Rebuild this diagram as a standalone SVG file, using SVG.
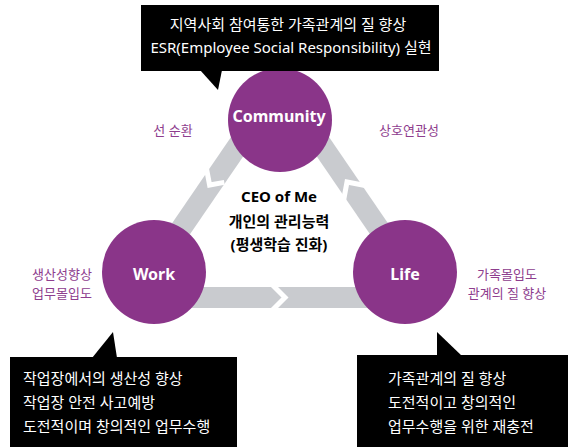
<svg xmlns="http://www.w3.org/2000/svg" width="575" height="447" viewBox="0 0 575 447">
<style>
text{font-family:"Noto Sans","Noto Sans CJK KR",sans-serif}
.band{stroke:#c9cbcf;stroke-width:21;fill:none;stroke-linecap:butt}
.gap{stroke:#fff;stroke-width:5;fill:none;stroke-linejoin:miter}
.node{fill:#8a3589}
.ntxt{fill:#fff;font-size:16px;font-weight:700;text-anchor:middle}
.ctr{fill:#000;font-size:15px;font-weight:700;text-anchor:middle}
.lbl{fill:#8e3d8e;font-size:13px;text-anchor:middle}
.box{fill:#000}
.btxt{fill:#fff;font-size:15px}
</style>
<rect width="575" height="447" fill="#fff"/>
<g id="connectors">
<line class="band" x1="280" y1="84" x2="134" y2="297.5"/>
<line class="band" x1="134" y1="297.5" x2="426" y2="297.5"/>
<line class="band" x1="426" y1="297.5" x2="280" y2="84"/>
<polyline class="gap" points="224.3,182.4 209.6,185 205.9,165.5"/>
<polyline class="gap" points="271,283.5 285,297.5 271,311.5"/>
<polyline class="gap" points="343.4,201.5 347,182 366.4,185.7"/>
</g>
<g id="community">
<circle class="node" cx="280" cy="120" r="52"/>
<text class="ntxt" x="279" y="122">Community</text>
</g>
<g id="work">
<circle class="node" cx="154" cy="272" r="52"/>
<text class="ntxt" x="154" y="280">Work</text>
</g>
<g id="life">
<circle class="node" cx="405" cy="272" r="52"/>
<text class="ntxt" x="405" y="280">Life</text>
</g>
<g id="center">
<text class="ctr" x="279" y="202" font-size="16.5">CEO of Me</text>
<text class="ctr" x="279" y="227">개인의 관리능력</text>
<text class="ctr" x="279" y="250">(평생학습 진화)</text>
</g>
<g id="label-left">
<text class="lbl" x="173" y="135">선 순환</text>
</g>
<g id="label-right">
<text class="lbl" x="409" y="135">상호연관성</text>
</g>
<g id="label-work">
<text class="lbl" x="62" y="279">생산성향상</text>
<text class="lbl" x="62" y="298">업무몰입도</text>
</g>
<g id="label-life">
<text class="lbl" x="507" y="279">가족몰입도</text>
<text class="lbl" x="507" y="298">관계의 질 향상</text>
</g>
<g id="callout-top">
<rect class="box" x="141" y="5" width="298" height="66"/>
<polygon class="box" points="200,70 222,70 218,90"/>
<text class="btxt" x="288" y="30" text-anchor="middle" font-size="16">지역사회 참여통한 가족관계의 질 향상</text>
<text class="btxt" x="291" y="53" text-anchor="middle" font-size="15">ESR(Employee Social Responsibility) 실현</text>
</g>
<g id="callout-work">
<rect class="box" x="10" y="357" width="227" height="90"/>
<polygon class="box" points="92,358 117,358 113,332"/>
<text class="btxt" x="23" y="384">작업장에서의 생산성 향상</text>
<text class="btxt" x="23" y="408">작업장 안전 사고예방</text>
<text class="btxt" x="23" y="432">도전적이며 창의적인 업무수행</text>
</g>
<g id="callout-life">
<rect class="box" x="357" y="355" width="211" height="92"/>
<polygon class="box" points="437,332 437,356 462,356"/>
<text class="btxt" x="388" y="384">가족관계의 질 향상</text>
<text class="btxt" x="388" y="408">도전적이고 창의적인</text>
<text class="btxt" x="388" y="432">업무수행을 위한 재충전</text>
</g>
</svg>
